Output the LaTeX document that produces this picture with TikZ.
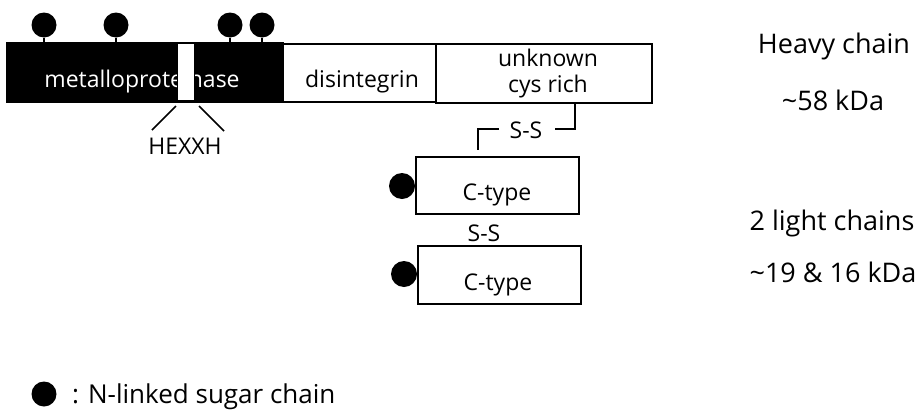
\documentclass[tikz,border=0pt]{standalone}
\usepackage{fontspec}
\setmainfont{Open Sans}
\begin{document}
\begin{tikzpicture}[x=1pt,y=-1pt,
  box/.style={draw=black, line width=2pt, fill=white, inner sep=0pt, outer sep=0pt},
  lbl/.style={inner sep=0pt, anchor=base, font=\fontsize{23}{27}\selectfont},
  big/.style={inner sep=0pt, anchor=base, font=\fontsize{27}{31}\selectfont},
  dot/.style={circle, fill=black, minimum size=25pt, inner sep=0pt, outer sep=0pt},
  conn/.style={line width=1.5pt}]
\useasboundingbox[fill=white] (0,0) rectangle (921,410);

% heavy chain domains
\node[box, fill=black, minimum width=276pt, minimum height=59pt] (mp) at (145,72.5) {};
\node[lbl, text=white] (mptxt) at (142,87.5) {metalloproteinase};
\node[box, line width=1pt, minimum width=17pt, minimum height=57pt] (hex) at (185.5,72) {};
\node[box, minimum width=153pt, minimum height=58pt] (dis) at (359.5,73) {};
\node[lbl] (distxt) at (362,87) {disintegrin};
\node[box, minimum width=216pt, minimum height=59pt] (unk) at (544,73.5) {};
\node[lbl] (unk1) at (548,66) {unknown};
\node[lbl] (unk2) at (548,92) {cys rich};

% glycosylation lollipops
\node[dot] (g1) at (44,25) {};
\node[dot] (g2) at (116,25) {};
\node[dot] (g3) at (230,25) {};
\node[dot] (g4) at (262,25) {};
\foreach \g in {g1,g2,g3,g4}
  \draw[conn] (\g.south) -- (\g.south |- mp.north);

% HEXXH
\coordinate (h1) at (176,106);
\coordinate (h2) at (152,130);
\coordinate (h3) at (199,106);
\coordinate (h4) at (224,131);
\draw[conn] (h1) -- (h2);
\draw[conn] (h3) -- (h4);
\node[lbl] (hexxh) at (185,154) {HEXXH};

% S-S between heavy and light chain
\node[lbl] (ss1) at (526,138) {S-S};
\coordinate (r1) at (575,103);
\coordinate (r2) at (575,129);
\coordinate (r3) at (555,129);
\draw[conn] (r1) -- (r2) -- (r3);
\coordinate (l1) at (499,129);
\coordinate (l2) at (478,129);
\coordinate (l3) at (478,150);
\draw[conn] (l1) -- (l2) -- (l3);

% light chains
\node[box, minimum width=163pt, minimum height=57pt] (ct1) at (497.5,185.5) {};
\node[lbl] (ct1txt) at (497,200) {C-type};
\node[dot, minimum size=26pt] (d1) at (402,186) {};
\node[lbl] (ss2) at (484,241) {S-S};
\node[box, minimum width=163pt, minimum height=58pt] (ct2) at (499.5,275) {};
\node[lbl] (ct2txt) at (498,290) {C-type};
\node[dot, minimum size=26pt] (d2) at (404,274) {};

% right labels
\node[big] (hc) at (834,53) {Heavy chain};
\node[big] (hcm) at (833,110) {\textasciitilde 58 kDa};
\node[big] (lc) at (832,230) {2 light chains};
\node[big] (lcm) at (833,282) {\textasciitilde 19 \& 16 kDa};

% legend
\node[dot] (ld) at (44,394) {};
\node[big, anchor=base west, font=\fontsize{26}{30}\selectfont] (ltxt) at (72,403) {: N-linked sugar chain};
\end{tikzpicture}
\end{document}
